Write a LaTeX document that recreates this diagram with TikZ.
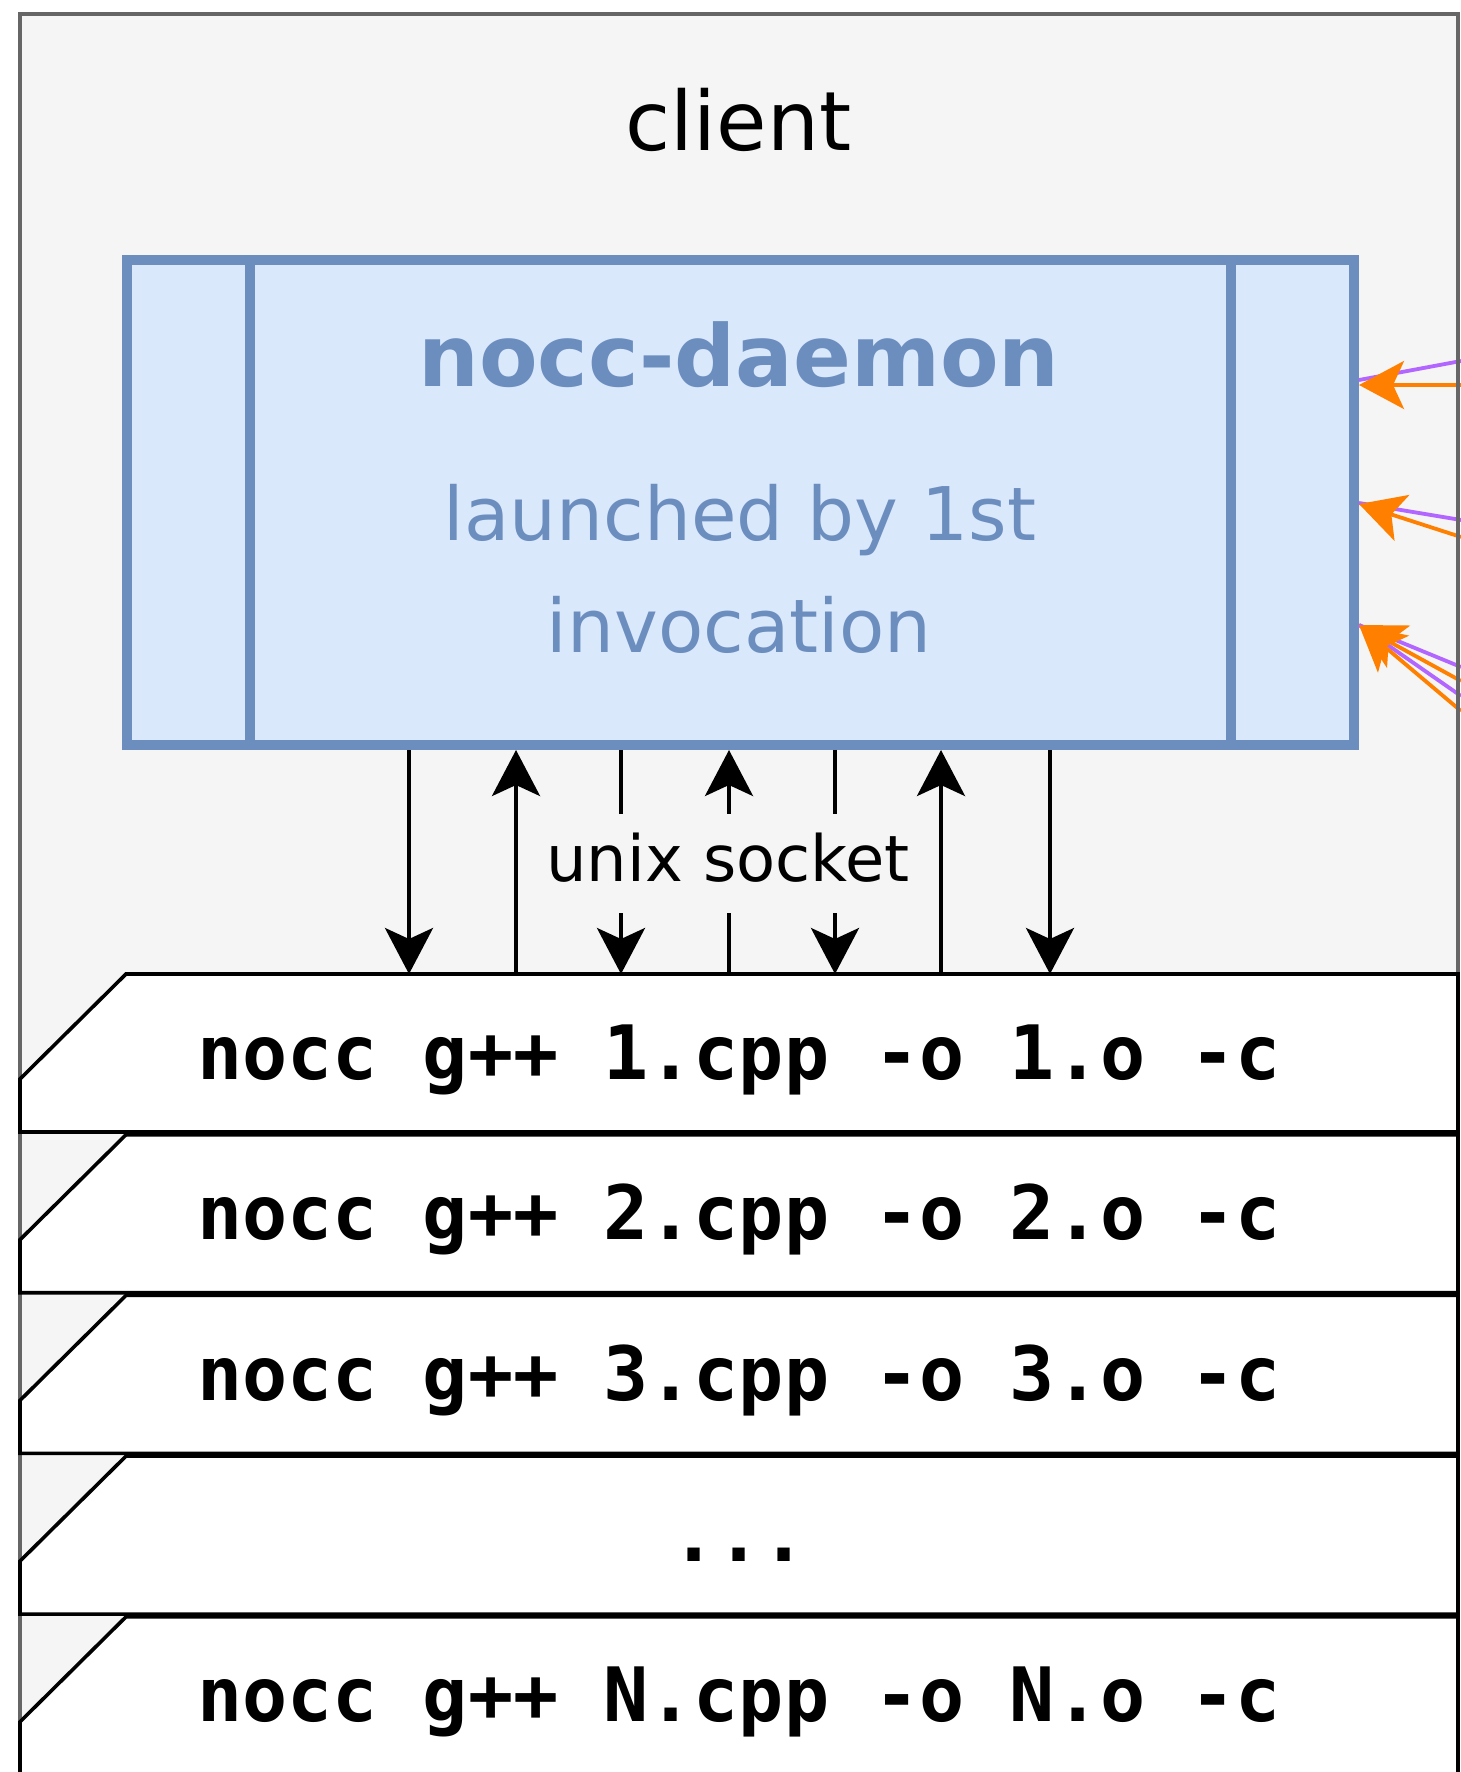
\documentclass[tikz,border=0pt]{standalone}
\usepackage{fontspec}
\setmainfont{DejaVu Sans}
\setmonofont{DejaVu Sans Mono}
\usetikzlibrary{arrows.meta}
\definecolor{groupfill}{HTML}{F5F5F5}
\definecolor{groupline}{HTML}{666666}
\definecolor{procfill}{HTML}{DAE8FC}
\definecolor{procline}{HTML}{6C8EBF}
\definecolor{linkorange}{HTML}{FF8000}
\definecolor{linkpurple}{HTML}{B266FF}

\begin{document}
\begin{tikzpicture}[x=1pt,y=-1pt,
  every node/.style={inner sep=0pt, outer sep=0pt},
  groupbox/.style={rectangle, fill=groupfill, draw=groupline, line width=4pt, anchor=north west},
  grouplabel/.style={anchor=base, font=\fontsize{82}{98}\selectfont},
  procbox/.style={rectangle, fill=procfill, draw=procline, line width=10pt,
    minimum width=1227pt, minimum height=485pt, outer sep=5pt},
  procdivider/.style={draw=procline, line width=10pt},
  proctitle/.style={anchor=base, text=procline, font=\fontsize{85.4}{100}\selectfont\bfseries},
  procnote/.style={anchor=base, text=procline, font=\fontsize{74}{86}\selectfont},
  cmdbox/.style={rectangle, anchor=north west, minimum width=1438pt, minimum height=158pt},
  cmdoutline/.style={fill=white, draw=black, line width=3.6pt, line join=miter},
  cmdtext/.style={anchor=base, font=\fontsize{75}{90}\selectfont\ttfamily\bfseries},
  sockarrow/.style={draw=black, line width=3.8pt, -{Stealth[length=46pt, width=48pt, inset=11pt]}},
  sockspot/.style={coordinate},
  socklabel/.style={fill=groupfill, inner xsep=4pt, minimum height=99pt, text depth=12pt,
    font=\fontsize{63.9}{76}\selectfont},
  peerlink/.style={draw=linkorange, line width=3.8pt, -{Stealth[length=45pt, width=48pt, inset=11pt]}},
  peerlinkalt/.style={draw=linkpurple, line width=3.8pt}
]
\useasboundingbox (0,0) rectangle (1461,1772);
\clip (0,0) rectangle (1461,1772);

% client group
\node[groupbox, minimum width=1438pt, minimum height=1786pt] (clientbox) at (20,14) {};
\node[grouplabel] (clientlabel) at (738.5,150) {client};

% daemon process box with its two side bars
\node[procbox] (daemon) at (740.5,502.5) {};
\draw[procdivider] ([xshift=128pt,yshift=-5pt]daemon.north west) -- ([xshift=128pt,yshift=5pt]daemon.south west);
\draw[procdivider] ([xshift=-128pt,yshift=-5pt]daemon.north east) -- ([xshift=-128pt,yshift=5pt]daemon.south east);
\node[proctitle] (dtitle) at (739,386) {nocc-daemon};
\node[procnote] (dnote1) at (740,540) {launched by 1st};
\node[procnote] (dnote2) at (739,652) {invocation};

% incoming links from the right
\coordinate (pa) at (1461,361);
\coordinate (oa) at (1461,385);
\coordinate (pb) at (1461,520);
\coordinate (ob) at (1461,537);
\coordinate (pc1) at (1461,667);
\coordinate (oc1) at (1461,681);
\coordinate (pc2) at (1461,696);
\coordinate (oc2) at (1461,711);
\draw[peerlinkalt] (pa) -- (daemon.east |- 0,380);
\draw[peerlink] (oa) -- (daemon.east |- 0,385);
\draw[peerlinkalt] (pb) -- (daemon.east |- 0,503);
\draw[peerlink] (ob) -- (daemon.east |- 0,504);
\draw[peerlinkalt] (pc1) -- (daemon.east |- 0,625);
\draw[peerlink] (oc1) -- (daemon.east |- 0,625);
\draw[peerlinkalt] (pc2) -- (daemon.east |- 0,625);
\draw[peerlink] (oc2) -- (daemon.east |- 0,625);
\draw[groupline, line width=4pt] (clientbox.north east) -- (clientbox.south east);

% command invocations
\foreach \i/\txt in {1/{nocc g++ 1.cpp -o 1.o -c},
                     2/{nocc g++ 2.cpp -o 2.o -c},
                     3/{nocc g++ 3.cpp -o 3.o -c},
                     4/{...},
                     5/{nocc g++ N.cpp -o N.o -c}} {
  \node[cmdbox] (cmd\i) at (20,{974+(\i-1)*160.7}) {};
  \draw[cmdoutline] ([yshift=-105pt]cmd\i.north west) -- ([xshift=106pt]cmd\i.north west)
    -- (cmd\i.north east) -- (cmd\i.south east) -- (cmd\i.south west) -- cycle;
  \node[cmdtext] (cmd\i text) at ([yshift=-105pt]cmd\i.north) {\txt};
}

% unix socket traffic between daemon and first invocation
\coordinate[sockspot] (k1) at (409,0);
\coordinate[sockspot] (k2) at (516,0);
\coordinate[sockspot] (k3) at (621,0);
\coordinate[sockspot] (k4) at (729,0);
\coordinate[sockspot] (k5) at (835,0);
\coordinate[sockspot] (k6) at (941,0);
\coordinate[sockspot] (k7) at (1050,0);
\draw[sockarrow] (daemon.south -| k1) -- (cmd1.north -| k1);
\draw[sockarrow] (cmd1.north -| k2) -- (daemon.south -| k2);
\draw[sockarrow] (daemon.south -| k3) -- (cmd1.north -| k3);
\draw[sockarrow] (cmd1.north -| k4) -- (daemon.south -| k4);
\draw[sockarrow] (daemon.south -| k5) -- (cmd1.north -| k5);
\draw[sockarrow] (cmd1.north -| k6) -- (daemon.south -| k6);
\draw[sockarrow] (daemon.south -| k7) -- (cmd1.north -| k7);
\node[socklabel] (sock) at (728,863.5) {unix socket};
\end{tikzpicture}
\end{document}
